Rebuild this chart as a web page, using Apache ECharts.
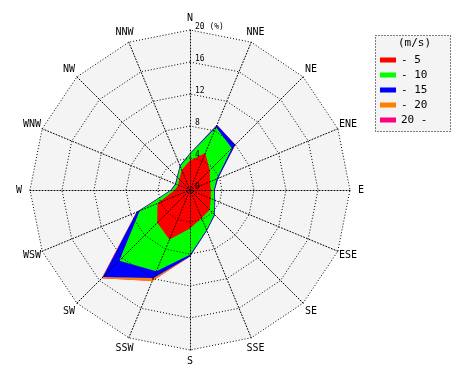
<!DOCTYPE html>
<html><head><meta charset="utf-8">
<script src="https://cdn.jsdelivr.net/npm/echarts@6/dist/echarts.min.js"></script>
<style>html,body{margin:0;padding:0;background:#fff}#c{width:470px;height:380px}</style>
</head><body><div id="c"></div>
<script>
const directions = ['N','NNE','NE','ENE','E','ESE','SE','SSE','S','SSW','SW','WSW','W','WNW','NW','NNW'];
const speedBins = ['- 5','- 10','- 15','- 20','20 -'];
const binColors = ['#ff0000','#00ff00','#0000ff','#ff8000','#ff0080'];
// frequency (%) per speed bin, compass order
const freq5      = [3.7, 5.0, 3.5, 2.7, 2.6, 2.8, 3.5, 3.8, 4.8, 6.7, 5.8, 4.4, 1.9, 1.6, 1.9, 2.7];
const freq10     = [0.8, 3.5, 3.9, 0.9, 0.4, 0.5, 0.8, 1.6, 3.3, 4.3, 6.7, 2.4, 0.4, 0.3, 0.3, 0.5];
const freq15     = [0.1, 0.3, 0.6, 0.2, 0.1, 0.1, 0.1, 0.1, 0.2, 0.9, 2.9, 0.4, 0.1, 0.1, 0.1, 0.1];
const freq20     = [0, 0, 0, 0, 0, 0, 0, 0, 0, 0.4, 0.2, 0.05, 0, 0, 0, 0];
const freq20plus = [0, 0, 0, 0, 0, 0, 0, 0, 0, 0, 0, 0, 0, 0, 0, 0];
const radialMax = 20;
const radialSplits = 5;

const bins = [freq5, freq10, freq15, freq20, freq20plus];
const n = directions.length;
// radar goes counter-clockwise; reorder so compass runs clockwise
const order = directions.map((_, i) => (n - i) % n);
const cum = [];
let run = directions.map(() => 0);
bins.forEach(b => { run = run.map((v, i) => v + b[i]); cum.push(run.slice()); });

const mono = 'DejaVu Sans Mono';
const indicator0 = order.map(i => ({ name: directions[i], max: radialMax, min: 0 }));
const indicator1 = order.map((i, k) => {
  const o = { name: directions[i], max: radialMax, min: 0 };
  if (k === 0) {
    o.axisLabel = { show: true, fontFamily: mono, fontSize: 8, color: '#000', margin: -5,
      align: 'left', verticalAlign: 'bottom', lineHeight: 6,
      formatter: v => v === radialMax ? v + ' (%)' : String(v) };
  }
  return o;
});
const dotted = { color: '#000', width: 1, type: [1, 2] };
const series = [];
for (let k = bins.length - 1; k >= 0; k--) {
  series.push({
    type: 'radar', radarIndex: 0, z: 1, name: speedBins[k], symbol: 'none', silent: true,
    lineStyle: { width: 0 }, itemStyle: { color: binColors[k] },
    areaStyle: { color: binColors[k], opacity: 1 },
    data: [{ name: speedBins[k], value: order.map(i => cum[k][i]) }]
  });
}
const chart = echarts.init(document.getElementById('c'), null, { renderer: 'canvas' });
chart.setOption({
  animation: false,
  radar: [
    { center: [190, 190], radius: 160, shape: 'polygon', startAngle: 90, splitNumber: radialSplits, z: 0,
      indicator: indicator0, axisName: { show: false }, axisLine: { show: false }, axisLabel: { show: false },
      splitLine: { show: false }, splitArea: { show: true, areaStyle: { color: ['#f4f4f4'] } } },
    { center: [190, 190], radius: 160, shape: 'polygon', startAngle: 90, splitNumber: radialSplits, z: 3,
      indicator: indicator1, nameGap: 11,
      axisName: { color: '#000', fontFamily: mono, fontSize: 10, align: 'center', verticalAlign: 'middle' },
      axisLine: { lineStyle: dotted }, axisLabel: { show: false }, axisTick: { show: false },
      splitLine: { lineStyle: dotted }, splitArea: { show: false } }
  ],
  title: { text: '(m/s)', left: 398, top: 38, padding: 0,
    textStyle: { fontFamily: mono, fontSize: 11, fontWeight: 'normal', color: '#000' } },
  legend: { orient: 'vertical', left: 380, top: 54, padding: 0, itemWidth: 16, itemHeight: 5, itemGap: 3,
    icon: 'rect', selectedMode: false, data: speedBins,
    textStyle: { fontFamily: mono, fontSize: 11, color: '#000', lineHeight: 12 } },
  graphic: [{ type: 'rect', z: 0, shape: { x: 375.5, y: 35.5, width: 75, height: 96 },
    style: { fill: '#f4f4f4', stroke: '#000', lineWidth: 1, lineDash: [1, 2] } }],
  series: series
});
</script></body></html>
